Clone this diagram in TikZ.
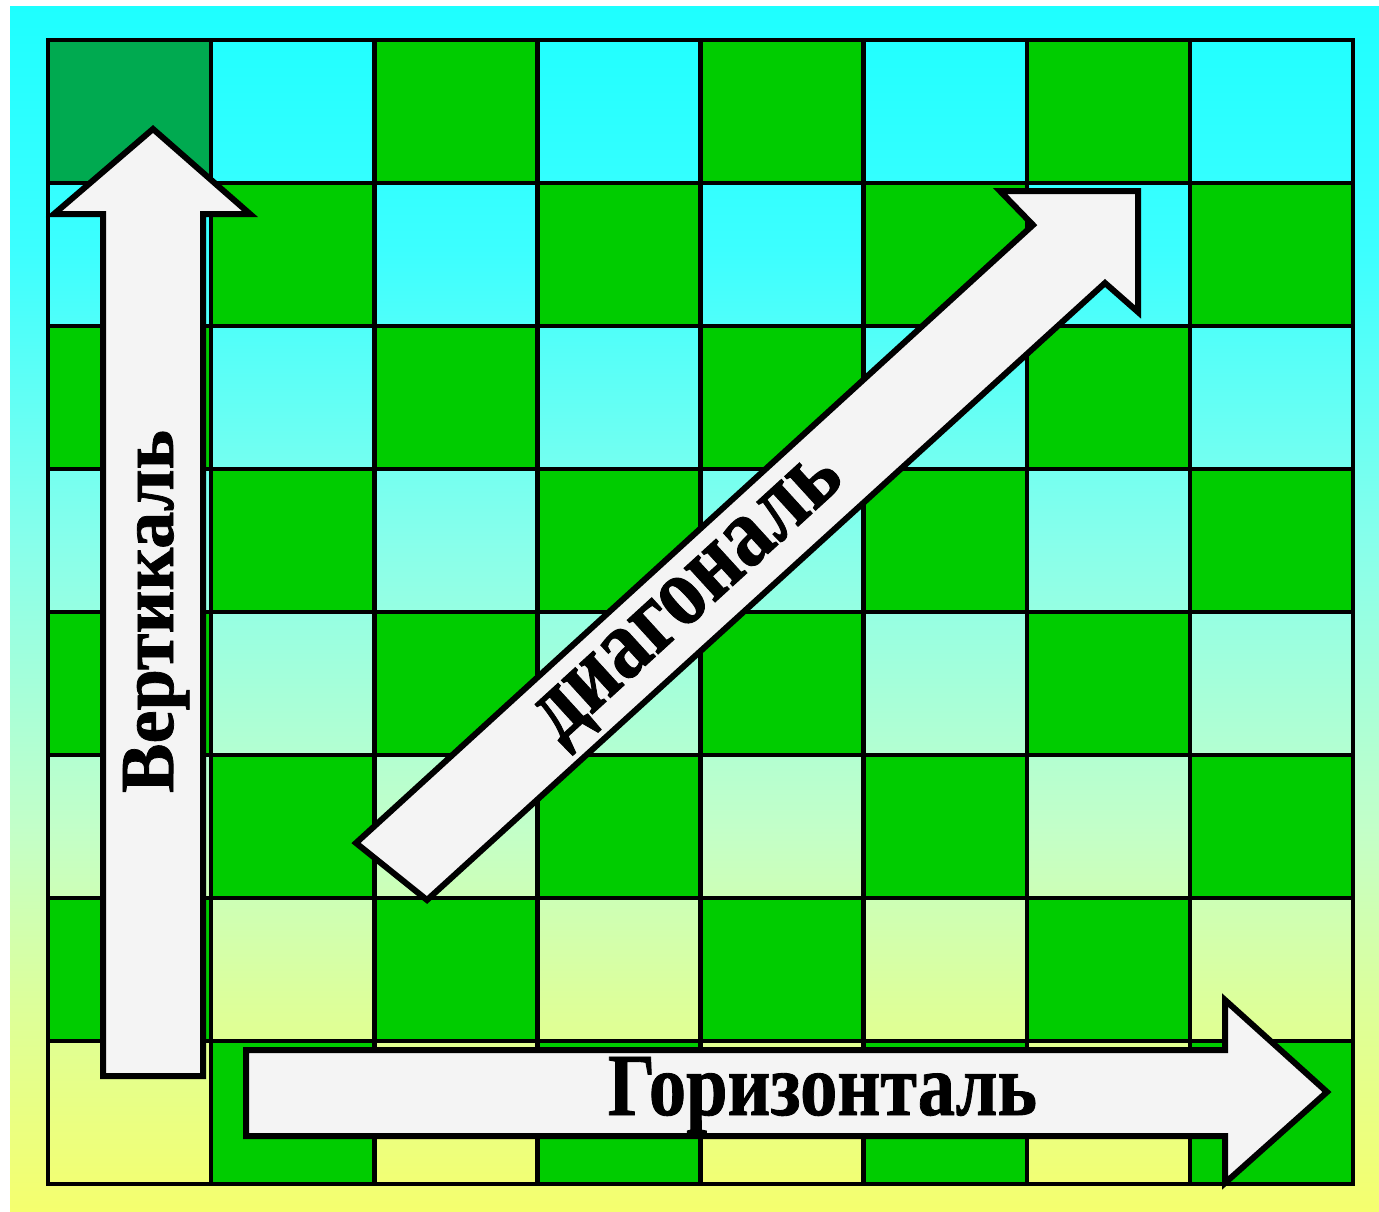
\documentclass[tikz,border=0pt]{standalone}
\usepackage{fontspec}
\setmainfont{Liberation Serif}[BoldFeatures={FakeBold=1}]
\usepackage{graphicx}
\definecolor{gr}{RGB}{0,204,0}
\definecolor{dg}{RGB}{0,170,80}
\definecolor{arrowfill}{RGB}{244,244,244}
\definecolor{bga}{RGB}{30,255,255}
\definecolor{bgb}{RGB}{60,255,255}
\definecolor{bgc}{RGB}{135,255,235}
\definecolor{bgd}{RGB}{195,255,200}
\definecolor{bge}{RGB}{220,255,155}
\definecolor{bgf}{RGB}{245,255,110}
\begin{document}
\begin{tikzpicture}[x=1pt,y=-1pt,
  gridline/.style={line width=4.5pt,black},
  blockarrow/.style={draw=black,line width=6pt,fill=arrowfill,line join=miter},
  lbl/.style={inner sep=0pt,font=\bfseries}]
\useasboundingbox (0,0) rectangle (1379,1212);
\fill[white] (0,0) rectangle (1379,1212);
% background gradient
\shade[top color=bga,bottom color=bgb] (10,7) rectangle (1379,251);
\shade[top color=bgb,bottom color=bgc] (10,250) rectangle (1379,541);
\shade[top color=bgc,bottom color=bgd] (10,540) rectangle (1379,831);
\shade[top color=bgd,bottom color=bge] (10,830) rectangle (1379,1001);
\shade[top color=bge,bottom color=bgf] (10,1000) rectangle (1379,1212);
% green squares
\foreach \r in {0,...,7}{
  \foreach \c in {0,...,7}{
    \pgfmathtruncatemacro\oddcell{mod(\r+\c,2)}
    \ifnum\oddcell=0
      \fill[gr] ({48+\c*163.125},{40+\r*143}) rectangle ++(163.125,143);
    \fi
  }
}
\fill[dg] (48,40) rectangle ++(163.125,143);
% grid lines
\foreach \i in {1,...,7}{
  \draw[gridline] ({48+\i*163.125},40) -- ({48+\i*163.125},1184);
  \draw[gridline] (48,{40+\i*143}) -- (1353,{40+\i*143});
}
\draw[gridline] (48,40) rectangle (1353,1184);
% arrows
\draw[blockarrow] (103,1076) -- (103,214) -- (54,214) -- (153,129) -- (250,214) -- (203,214) -- (203,1076) -- cycle;
\draw[blockarrow] (246,1050) -- (1225,1050) -- (1225,1000) -- (1327,1092) -- (1225,1183) -- (1225,1136) -- (246,1136) -- cycle;
\draw[blockarrow] (356,843) -- (1033,225) -- (1000,191) -- (1138,191) -- (1138,312) -- (1105,283) -- (427,900) -- cycle;
% labels
\node[lbl,rotate=90,anchor=base] (vert) at (173,611.5) {\resizebox{363pt}{50pt}{Вертикаль}};
\node[lbl,anchor=base] (horiz) at (822.5,1115) {\resizebox{429pt}{58pt}{Горизонталь}};
\node[lbl,rotate=42.4,anchor=base] (diag) at (703,613) {\resizebox{388pt}{47pt}{диагональ}};
\end{tikzpicture}
\end{document}
